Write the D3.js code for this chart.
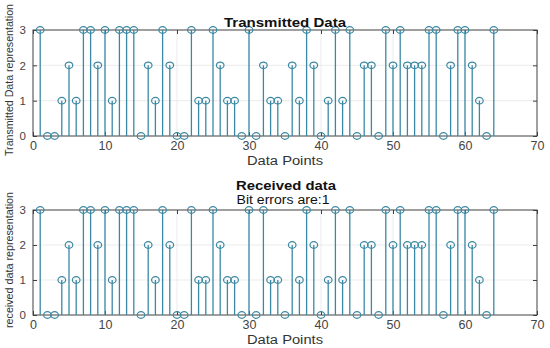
<!DOCTYPE html>
<html>
<head>
<meta charset="utf-8">
<script src="https://cdn.jsdelivr.net/npm/d3@7"></script>
<style>
  body { margin: 0; background: #fff; }
  svg text { font-family: "Liberation Sans", Arial, sans-serif; }
</style>
</head>
<body>
<svg id="chart" width="550" height="348"></svg>
<script>
'use strict';

var transmitted = [3,0,0,1,2,1,3,3,2,3,1,3,3,3,0,2,1,3,2,0,0,3,1,1,3,2,1,1,0,3,0,2,1,1,
  0,2,1,3,2,0,1,3,1,3,0,2,2,0,3,2,3,2,2,2,3,3,0,2,3,3,2,1,0,3];
var received = [3,0,0,1,2,1,3,3,2,3,1,3,3,3,0,2,1,3,2,0,0,3,1,1,3,2,1,1,0,3,0,3,1,1,
  0,2,1,3,2,0,1,3,1,3,0,2,2,0,3,2,3,2,2,2,3,3,0,2,3,3,2,1,0,3];
var xTicks = [0,10,20,30,40,50,60,70];
var yTicks = [0,1,2,3];

var stemColor = '#3a88a3';
var svg = d3.select('#chart');

// the picture is stretched sideways, so widen text to the measured widths
function stretched(sel, len) {
  return sel.attr('textLength', len).attr('lengthAdjust', 'spacingAndGlyphs');
}

function drawPanel(opts) {
  var x = d3.scaleLinear().domain([0, 70]).range([33, 537]);
  var y = d3.scaleLinear().domain([0, 3]).range([opts.bottom, opts.top]);
  var g = svg.append('g');

  // grid
  g.selectAll('line.gx').data(xTicks.slice(1, -1)).enter().append('line')
    .attr('x1', function (d) { return x(d); }).attr('x2', function (d) { return x(d); })
    .attr('y1', y(0)).attr('y2', y(3))
    .attr('stroke', '#e6e6e6').attr('stroke-width', 0.8);
  g.selectAll('line.gy').data(yTicks.slice(1, -1)).enter().append('line')
    .attr('x1', x(0)).attr('x2', x(70))
    .attr('y1', function (d) { return y(d); }).attr('y2', function (d) { return y(d); })
    .attr('stroke', '#e6e6e6').attr('stroke-width', 0.8);

  // box
  g.append('rect')
    .attr('x', x(0)).attr('y', y(3))
    .attr('width', x(70) - x(0)).attr('height', y(0) - y(3))
    .attr('fill', 'none').attr('stroke', '#404040').attr('stroke-width', 1);

  // axes, ticks pointing inward like matlab
  var fmt = d3.format('d');
  var xAxis = d3.axisBottom(x).tickValues(xTicks).tickFormat(fmt).tickSize(-4).tickPadding(5);
  var xg = g.append('g').attr('transform', 'translate(0,' + y(0) + ')').call(xAxis);
  var xTop = d3.axisTop(x).tickValues(xTicks).tickSize(-4).tickFormat('');
  var xtg = g.append('g').attr('transform', 'translate(0,' + y(3) + ')').call(xTop);
  var yAxis = d3.axisLeft(y).tickValues(yTicks).tickFormat(fmt).tickSize(-4).tickPadding(7);
  var yg = g.append('g').attr('transform', 'translate(' + x(0) + ',0)').call(yAxis);
  var yRight = d3.axisRight(y).tickValues(yTicks).tickSize(-4).tickFormat('');
  var yrg = g.append('g').attr('transform', 'translate(' + x(70) + ',0)').call(yRight);
  [xg, xtg, yg, yrg].forEach(function (a) {
    a.select('.domain').remove();
    a.selectAll('.tick line').attr('stroke', '#404040');
    a.selectAll('.tick text').attr('fill', '#444').style('font-size', '11.5px');
  });
  xg.selectAll('.tick text').style('font-size', '12.5px');

  // stems + circles
  var pts = opts.data.map(function (v, i) { return {n: i + 1, v: v}; });
  g.selectAll('line.stem').data(pts).enter().append('line')
    .attr('x1', function (d) { return x(d.n); }).attr('x2', function (d) { return x(d.n); })
    .attr('y1', y(0)).attr('y2', function (d) { return y(d.v); })
    .attr('stroke', stemColor).attr('stroke-width', 1.3);
  g.selectAll('ellipse.mark').data(pts).enter().append('ellipse')
    .attr('cx', function (d) { return x(d.n); })
    .attr('cy', function (d) { return y(d.v); })
    .attr('rx', 3.8).attr('ry', 3.3)
    .attr('fill', 'none').attr('stroke', stemColor).attr('stroke-width', 1.2);

  // labels
  stretched(g.append('text').attr('x', 285).attr('y', y(0) + 29)
    .attr('text-anchor', 'middle').attr('fill', '#333').style('font-size', '12px')
    .text('Data Points'), 76);
  stretched(g.append('text')
    .attr('transform', 'translate(13,' + opts.ylabelY + ') rotate(-90)')
    .attr('text-anchor', 'middle').attr('fill', '#333').style('font-size', '11px')
    .text(opts.ylabel), opts.ylabelLen);
  opts.titles.forEach(function (t) {
    stretched(g.append('text').attr('x', t.x).attr('y', t.y)
      .attr('text-anchor', 'middle').attr('fill', '#111')
      .style('font-size', '12px').style('font-weight', t.bold ? 'bold' : 'normal')
      .text(t.text), t.len);
  });
}

drawPanel({
  data: transmitted, top: 30, bottom: 136,
  ylabel: 'Transmitted Data representation', ylabelY: 80, ylabelLen: 152,
  titles: [{text: 'Transmitted Data', x: 285, y: 27, len: 122, bold: true}]
});
drawPanel({
  data: received, top: 210, bottom: 315,
  ylabel: 'received data representation', ylabelY: 260, ylabelLen: 136,
  titles: [{text: 'Received data', x: 286, y: 190, len: 100, bold: true},
           {text: 'Bit errors are:1', x: 283, y: 204, len: 93, bold: false}]
});
</script>
</body>
</html>
